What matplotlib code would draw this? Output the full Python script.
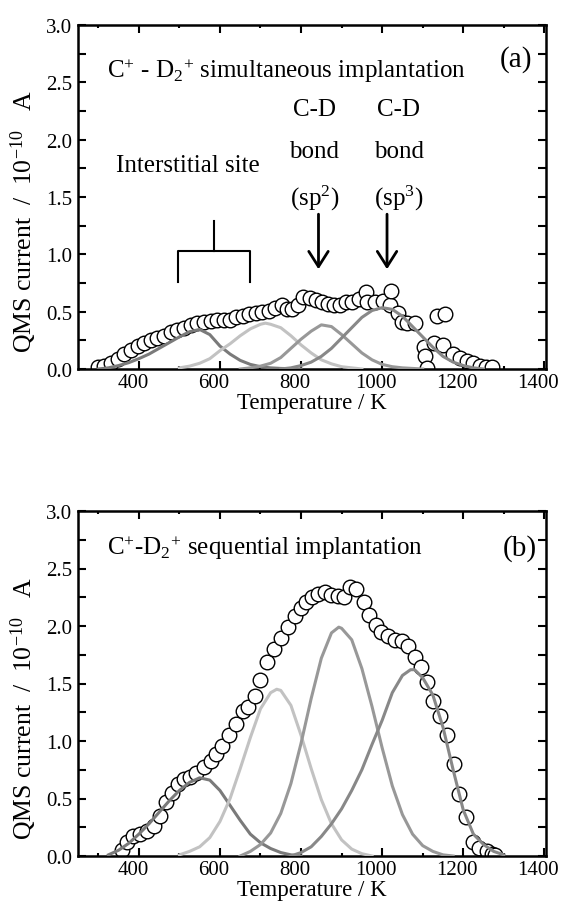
import matplotlib
matplotlib.use('Agg')
import matplotlib.pyplot as plt
import matplotlib.transforms as mtransforms
from matplotlib.ticker import MultipleLocator, FormatStrFormatter

plt.rcParams['font.family'] = ['Liberation Serif', 'DejaVu Serif']
plt.rcParams['mathtext.fontset'] = 'custom'
plt.rcParams['mathtext.rm'] = 'Liberation Serif'
plt.rcParams['mathtext.it'] = 'Liberation Serif:italic'
plt.rcParams['mathtext.bf'] = 'Liberation Serif:bold'

# ---- panel (a): simultaneous implantation, measured spectrum ----
a_temp = [299, 315, 332, 348, 364, 380, 397, 413, 430, 446, 462, 479, 495, 511,
          528, 544, 560, 577, 593, 609, 625, 640, 656, 672, 688, 704, 720, 736,
          752, 765, 778, 793, 806, 821, 837, 852, 867, 881, 895, 910, 926, 942,
          961, 962, 982, 1001, 1019, 1021, 1040, 1050, 1062, 1081, 1103, 1105,
          1110, 1128, 1134, 1149, 1155, 1175, 1192, 1208, 1225, 1241, 1255, 1272]
a_qms = [0.02, 0.03, 0.05, 0.09, 0.13, 0.17, 0.20, 0.23, 0.25, 0.27, 0.29, 0.32,
         0.34, 0.36, 0.38, 0.40, 0.41, 0.42, 0.43, 0.43, 0.43, 0.45, 0.46, 0.48,
         0.49, 0.50, 0.51, 0.53, 0.56, 0.52, 0.52, 0.56, 0.63, 0.62, 0.60, 0.58,
         0.57, 0.56, 0.56, 0.58, 0.58, 0.61, 0.67, 0.58, 0.58, 0.59, 0.56, 0.68,
         0.49, 0.41, 0.40, 0.40, 0.19, 0.11, 0.01, 0.23, 0.46, 0.21, 0.48, 0.13,
         0.10, 0.07, 0.05, 0.03, 0.02, 0.02]

# fitted components (a)
a1_t = [300, 325, 350, 375, 400, 425, 450, 475, 500, 525, 550, 575, 600, 625,
        650, 675, 700, 725, 750, 800]
a1_v = [0.0, 0.01, 0.03, 0.055, 0.09, 0.13, 0.18, 0.23, 0.28, 0.325, 0.345,
        0.30, 0.20, 0.13, 0.075, 0.04, 0.02, 0.01, 0.005, 0.0]
a2_t = [500, 525, 550, 575, 600, 625, 650, 675, 700, 712, 725, 750, 775, 800,
        825, 850, 875, 900, 925, 950]
a2_v = [0.01, 0.025, 0.05, 0.09, 0.16, 0.22, 0.29, 0.35, 0.39, 0.40, 0.39, 0.36,
        0.29, 0.21, 0.14, 0.08, 0.045, 0.02, 0.01, 0.0]
a3_t = [650, 675, 700, 725, 750, 775, 800, 825, 850, 875, 900, 925, 950, 975,
        1000, 1025, 1050, 1100]
a3_v = [0.0, 0.01, 0.025, 0.05, 0.10, 0.18, 0.26, 0.33, 0.385, 0.37, 0.30, 0.22,
        0.14, 0.08, 0.04, 0.02, 0.01, 0.0]
a4_t = [750, 775, 800, 825, 850, 875, 900, 925, 950, 975, 1000, 1025, 1050, 1075,
        1100, 1125, 1150, 1175, 1200, 1225, 1250]
a4_v = [0.0, 0.01, 0.03, 0.06, 0.11, 0.18, 0.27, 0.36, 0.45, 0.51, 0.535, 0.52,
        0.46, 0.37, 0.28, 0.19, 0.11, 0.06, 0.03, 0.01, 0.0]

# ---- panel (b): sequential implantation, measured spectrum ----
b_temp = [358, 370, 385, 403, 420, 437, 452, 467, 481, 496, 511, 526, 542, 560,
          577, 591, 606, 623, 640, 656, 670, 687, 700, 716, 733, 750, 767, 784,
          800, 813, 827, 843, 859, 875, 890, 905, 920, 935, 955, 968, 984, 998,
          1014, 1031, 1048, 1064, 1081, 1097, 1111, 1126, 1142, 1159, 1176, 1190,
          1207, 1223, 1240, 1258, 1270, 1278]
b_qms = [0.05, 0.12, 0.17, 0.19, 0.22, 0.26, 0.35, 0.47, 0.55, 0.63, 0.67, 0.69,
         0.72, 0.77, 0.83, 0.89, 0.96, 1.05, 1.15, 1.26, 1.30, 1.39, 1.53, 1.69,
         1.80, 1.90, 1.99, 2.09, 2.16, 2.21, 2.25, 2.28, 2.30, 2.27, 2.26, 2.25,
         2.34, 2.32, 2.21, 2.10, 2.01, 1.95, 1.91, 1.88, 1.87, 1.83, 1.73, 1.64,
         1.51, 1.35, 1.22, 1.05, 0.80, 0.54, 0.34, 0.12, 0.07, 0.04, 0.02, 0.01]

# fitted components (b)
b1_t = [325, 350, 375, 400, 425, 450, 475, 500, 525, 550, 575, 600, 625, 650,
        675, 700, 725, 750, 775, 800]
b1_v = [0.01, 0.05, 0.11, 0.19, 0.28, 0.38, 0.48, 0.57, 0.64, 0.68, 0.66, 0.57,
        0.44, 0.31, 0.19, 0.115, 0.065, 0.03, 0.01, 0.0]
b2_t = [500, 525, 550, 575, 600, 625, 650, 675, 700, 725, 740, 750, 775, 800,
        825, 850, 875, 900, 925, 950, 975]
b2_v = [0.01, 0.04, 0.08, 0.16, 0.30, 0.50, 0.76, 1.03, 1.28, 1.42, 1.45, 1.44,
        1.31, 1.05, 0.76, 0.49, 0.28, 0.14, 0.06, 0.02, 0.0]
b3_t = [650, 675, 700, 725, 750, 775, 800, 825, 850, 875, 893, 900, 925, 950,
        975, 1000, 1025, 1050, 1075, 1100, 1125, 1150, 1175]
b3_v = [0.0, 0.04, 0.10, 0.20, 0.37, 0.63, 0.98, 1.37, 1.72, 1.94, 1.99, 1.98,
        1.88, 1.63, 1.30, 0.94, 0.61, 0.36, 0.19, 0.09, 0.04, 0.01, 0.0]
b4_t = [775, 800, 825, 850, 875, 900, 925, 950, 975, 1000, 1025, 1050, 1070,
        1080, 1100, 1125, 1150, 1175, 1200, 1225, 1250, 1275, 1300]
b4_v = [0.0, 0.03, 0.08, 0.17, 0.28, 0.41, 0.57, 0.75, 0.97, 1.18, 1.42, 1.57,
        1.62, 1.62, 1.55, 1.40, 1.12, 0.75, 0.40, 0.19, 0.10, 0.04, 0.01]

CURVE_COLORS = ['#7a7a7a', '#c2c2c2', '#989898', '#888888']
X_TICKS = [400, 600, 800, 1000, 1200, 1400]

fig = plt.figure(figsize=(5.61, 9.03), dpi=100)
ax_a = fig.add_axes([78 / 561, 1 - 370 / 903, 468 / 561, 344 / 903])
ax_b = fig.add_axes([78 / 561, 1 - 857 / 903, 468 / 561, 345 / 903])


def style_axes(ax):
    ax.set_xlim(250, 1404)
    ax.set_ylim(0, 3.0)
    ax.set_xticks(X_TICKS)
    ax.xaxis.set_minor_locator(MultipleLocator(100))
    ax.yaxis.set_major_locator(MultipleLocator(0.5))
    ax.yaxis.set_minor_locator(MultipleLocator(0.25))
    ax.yaxis.set_major_formatter(FormatStrFormatter('%.1f'))
    ax.tick_params(which='both', direction='in', top=True, right=True,
                   width=1.5, labelsize=15, pad=4)
    ax.tick_params(axis='x', which='major', pad=3)
    ax.tick_params(which='major', length=6)
    ax.tick_params(axis='x', which='minor', length=2.5)
    ax.tick_params(axis='y', which='minor', length=6)
    for sp in ax.spines.values():
        sp.set_linewidth(1.8)
    # the x tick labels sit a little left of their ticks in the original
    shift = mtransforms.ScaledTranslation(-6 / 100, 0, fig.dpi_scale_trans)
    for tick in ax.xaxis.get_major_ticks():
        tick.label1.set_transform(tick.label1.get_transform() + shift)
    ax.set_xlabel('Temperature / K', fontsize=16.5, labelpad=0)
    ax.set_ylabel('QMS current  /  10$^{-10}$   A', fontsize=18.5)
    ax.yaxis.set_label_coords(-0.083, 0.43)


def draw_panel(ax, temp, qms, comps):
    ax.plot(temp, qms, 'o', ms=10.5, mfc='white', mec='black', mew=1.0, zorder=2)
    for (t, v), c in zip(comps, CURVE_COLORS):
        ax.plot(t, v, '-', color=c, lw=2.2, zorder=3)


draw_panel(ax_a, a_temp, a_qms,
           [(a1_t, a1_v), (a2_t, a2_v), (a3_t, a3_v), (a4_t, a4_v)])
draw_panel(ax_b, b_temp, b_qms,
           [(b1_t, b1_v), (b2_t, b2_v), (b3_t, b3_v), (b4_t, b4_v)])
style_axes(ax_a)
style_axes(ax_b)

# annotations (a)
ax_a.text(322, 2.55, 'C$^{+}$ - D$_{2}$$^{+}$ simultaneous implantation',
          fontsize=18, va='baseline', ha='left')
ax_a.text(1331, 2.71, '(a)', fontsize=21, ha='center', va='center')
ax_a.text(521, 1.78, 'Interstitial site', fontsize=18, ha='center', va='center')
ax_a.plot([496, 496, 673, 673], [0.76, 1.03, 1.03, 0.76], 'k-', lw=1.5)
ax_a.plot([585, 585], [1.03, 1.29], 'k-', lw=1.5)
for xc, xarr, sp in [(833, 843, '(sp$^{2}$)'), (1041, 1012, '(sp$^{3}$)')]:
    ax_a.text(xc, 2.27, 'C-D', fontsize=18, ha='center', va='center')
    ax_a.text(xc, 1.90, 'bond', fontsize=18, ha='center', va='center')
    ax_a.text(xc, 1.50, sp, fontsize=18, ha='center', va='center')
    ax_a.annotate('', xy=(xarr, 0.87), xytext=(xarr, 1.35),
                  arrowprops=dict(arrowstyle='->,head_length=0.55,head_width=0.35',
                                  lw=2, color='black', mutation_scale=20,
                                  shrinkA=0, shrinkB=0))

# annotations (b)
ax_b.text(322, 2.63, 'C$^{+}$-D$_{2}$$^{+}$ sequential implantation',
          fontsize=18, va='baseline', ha='left')
ax_b.text(1340, 2.68, '(b)', fontsize=21, ha='center', va='center')

fig.savefig('out.png', dpi=100)
